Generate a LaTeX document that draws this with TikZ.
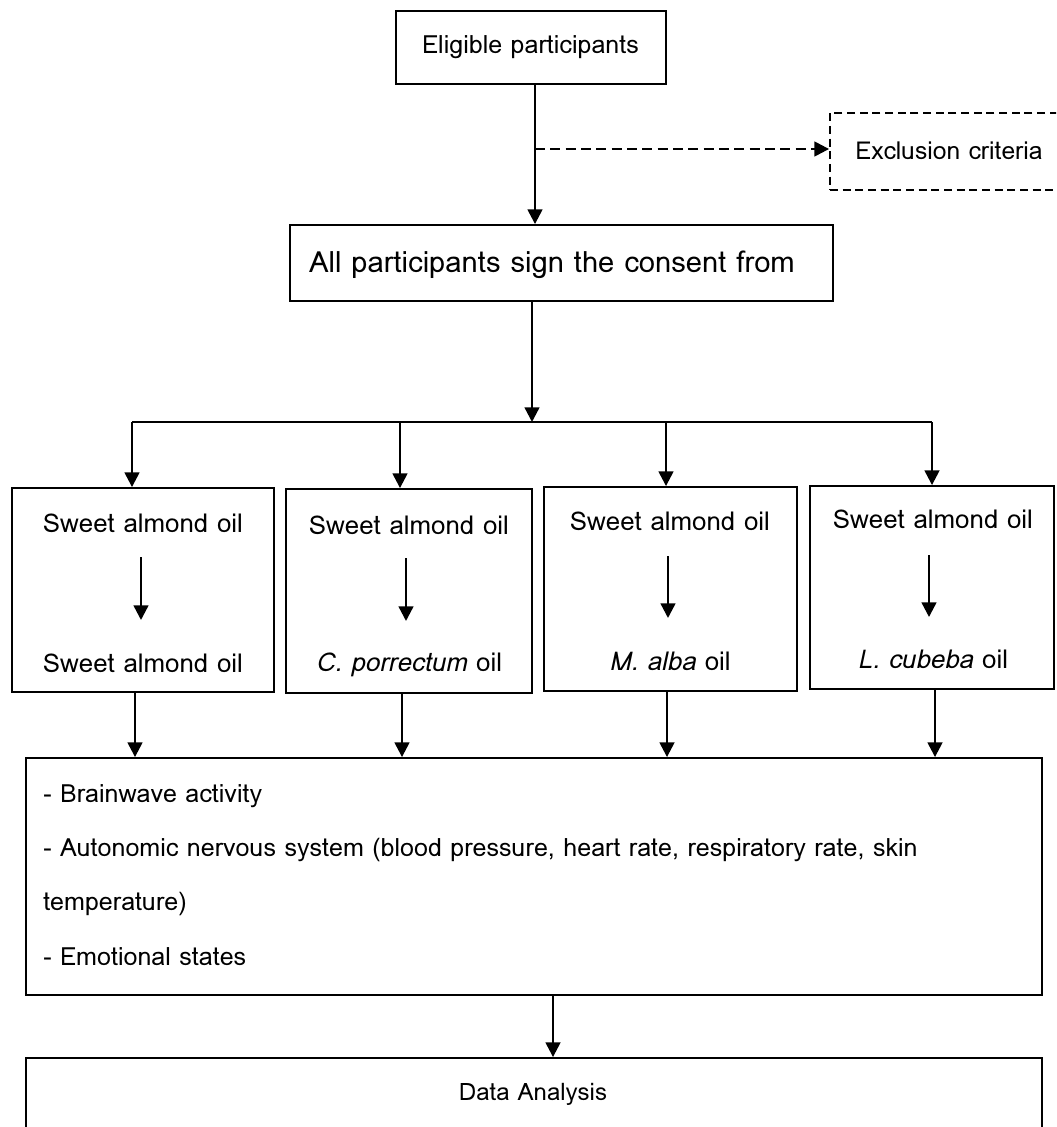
\documentclass[tikz,border=0pt]{standalone}
\usepackage{fontspec}
\setmainfont{Loma}
\usetikzlibrary{arrows.meta}
\tikzset{
  box/.style={draw, line width=1.4pt, inner sep=0pt},
  dbox/.style={draw, line width=1.4pt, dash pattern=on 6pt off 3.5pt, inner sep=0pt},
  conn/.style={line width=1.8pt, -{Triangle[length=11pt,width=11pt]}},
  plain/.style={line width=1.8pt},
  dconn/.style={line width=1.8pt, dash pattern=on 7.5pt off 4pt, -{Triangle[length=11pt,width=11pt]}},
  lbl/.style={inner sep=0pt, font=\fontsize{19.4}{23}\selectfont},
  blbl/.style={inner sep=0pt, anchor=west, font=\fontsize{18.8}{22}\selectfont},
}
\begin{document}
\begin{tikzpicture}[x=0.75pt,y=-0.75pt]
\useasboundingbox (0,0) rectangle (1056,1127);
\begin{scope}
\clip (0,0) rectangle (1056,1127);
% top
\node[box, minimum width=270*0.75pt, minimum height=73*0.75pt] (elig) at (531,47.5) {};
\node[lbl, font=\fontsize{18.8}{22}\selectfont] (eligt) at (530.5,47) {Eligible participants};
\node[dbox, minimum width=240*0.75pt, minimum height=77*0.75pt] (excl) at (950,151.5) {};
\node[lbl, font=\fontsize{18.5}{22}\selectfont] (exclt) at (949,151) {Exclusion criteria};
\node[box, minimum width=543*0.75pt, minimum height=76*0.75pt] (cons) at (561.5,263) {};
\node[lbl, font=\fontsize{21.9}{26}\selectfont] (const) at (552,265) {All participants sign the consent from};
\coordinate (e1) at (535,84);
\coordinate (dsplit) at (535,149);
\draw[conn] (e1) -- (e1 |- cons.north);
\draw[dconn] (dsplit) -- (excl.west |- dsplit);
% split
\coordinate (c2) at (532,301);
\coordinate (hsplit) at (532,422);
\coordinate (hl) at (132,422);
\coordinate (hr) at (932,422);
\draw[conn] (c2) -- (hsplit);
\draw[plain] (hl) -- (hr);
% four boxes
\node[box, minimum width=262*0.75pt, minimum height=204*0.75pt] (b1) at (143,590) {};
\node[box, minimum width=246*0.75pt, minimum height=204*0.75pt] (b2) at (409,591) {};
\node[box, minimum width=253*0.75pt, minimum height=204*0.75pt] (b3) at (670.5,589) {};
\node[box, minimum width=244*0.75pt, minimum height=203*0.75pt] (b4) at (932,587.5) {};
\draw[conn] (hl) -- (hl |- b1.north);
\draw[conn] (400,422) coordinate (h2) -- (h2 |- b2.north);
\draw[conn] (666,422) coordinate (h3) -- (h3 |- b3.north);
\draw[conn] (hr) -- (hr |- b4.north);
% texts
\node[lbl] (t1a) at (143,523) {Sweet almond oil};
\node[lbl] (t1b) at (143,663) {Sweet almond oil};
\node[lbl] (t2a) at (409,525) {Sweet almond oil};
\node[lbl] (t2b) at (409,665) {\textit{C. porrectum} oil};
\node[lbl] (t3a) at (670,521) {Sweet almond oil};
\node[lbl] (t3b) at (670,661) {\textit{M. alba} oil};
\node[lbl] (t4a) at (933,519) {Sweet almond oil};
\node[lbl] (t4b) at (933,659) {\textit{L. cubeba} oil};
\draw[conn] (141,557) coordinate (i1) -- (141,620) coordinate (j1);
\draw[conn] (406,558) coordinate (i2) -- (406,621) coordinate (j2);
\draw[conn] (668,556) coordinate (i3) -- (668,618) coordinate (j3);
\draw[conn] (929,555) coordinate (i4) -- (929,617) coordinate (j4);
% measures box
\node[box, minimum width=1016*0.75pt, minimum height=237*0.75pt] (meas) at (534,876.5) {};
\node[blbl] (m1) at (43,796) {- Brainwave activity};
\node[blbl] (m2) at (43,850) {- Autonomic nervous system (blood pressure, heart rate, respiratory rate, skin};
\node[blbl] (m3) at (43,904) {temperature)};
\node[blbl] (m4) at (43,957) {- Emotional states};
\draw[conn] (135,692) coordinate (k1) -- (k1 |- meas.north);
\draw[conn] (402,693) coordinate (k2) -- (k2 |- meas.north);
\draw[conn] (667,691) coordinate (k3) -- (k3 |- meas.north);
\draw[conn] (935,689) coordinate (k4) -- (k4 |- meas.north);
% data analysis
\node[box, minimum width=1016*0.75pt, minimum height=140*0.75pt] (data) at (534,1128) {};
\node[lbl, font=\fontsize{18}{21}\selectfont] (datat) at (533,1094) {Data Analysis};
\draw[conn] (553,995) coordinate (m0) -- (m0 |- data.north);
\end{scope}
\end{tikzpicture}
\end{document}
